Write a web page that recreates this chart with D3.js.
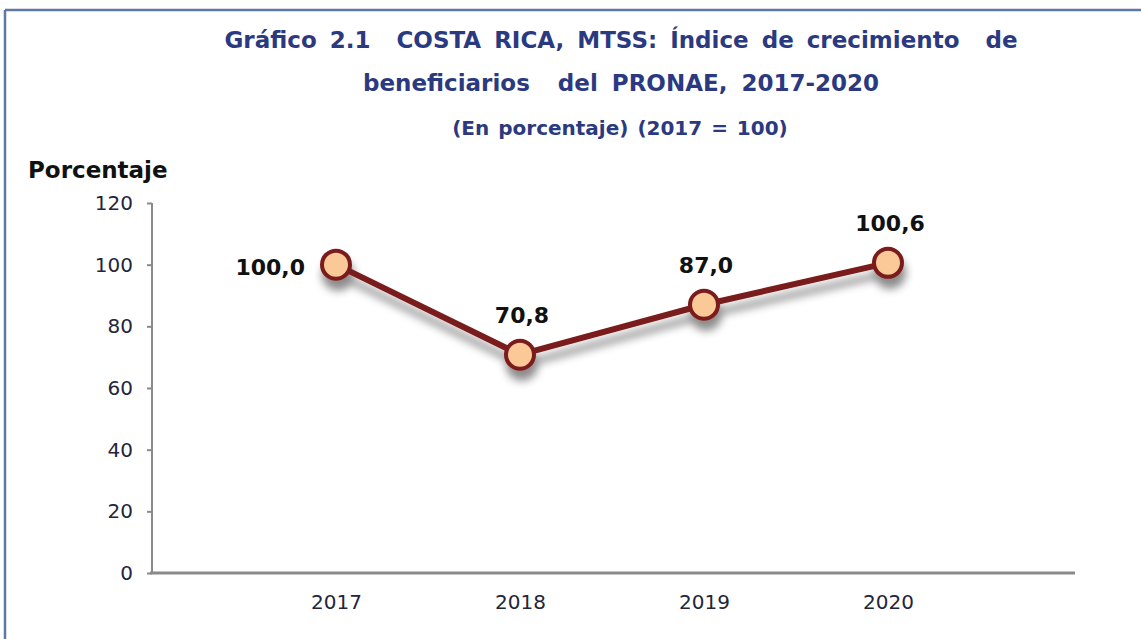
<!DOCTYPE html>
<html>
<head>
<meta charset="utf-8">
<script src="https://cdn.jsdelivr.net/npm/d3@7/dist/d3.min.js"></script>
<style>
  body { margin: 0; background: #fff; }
  svg { display: block; font-family: "DejaVu Sans", Verdana, sans-serif; }
  .title { fill: #2b3a80; font-weight: bold; }
  .axis text { fill: #23263a; font-size: 20px; font-family: "DejaVu Sans", Verdana, sans-serif; }
  .axis path, .axis line { stroke: #8a8a8a; stroke-width: 2; }
  .x.axis path { stroke-width: 3; }
  .lbl { font-weight: bold; font-size: 22px; fill: #111; }
</style>
</head>
<body>
<div id="chart"></div>
<script>
// data
var years = [2017, 2018, 2019, 2020];
var values = [100.0, 70.8, 87.0, 100.6];
var yTicks = [0, 20, 40, 60, 80, 100, 120];

var width = 1141, height = 639;
var plot = {left: 152, right: 1072, top: 203, bottom: 573};

var svg = d3.select("#chart").append("svg")
	.attr("width", width)
	.attr("height", height);

// drop shadow for the line and markers
var defs = svg.append("defs");
var f = defs.append("filter").attr("id", "shadow")
	.attr("x", "-20%").attr("y", "-30%").attr("width", "140%").attr("height", "180%");
f.append("feDropShadow")
	.attr("dx", 2).attr("dy", 10)
	.attr("stdDeviation", 4)
	.attr("flood-color", "#000")
	.attr("flood-opacity", 0.45);

// frame
svg.append("line").attr("x1", 5).attr("x2", width).attr("y1", 10).attr("y2", 10)
	.attr("stroke", "#5b78a6").attr("stroke-width", 2.5);
svg.append("line").attr("x1", 5).attr("x2", 5).attr("y1", 10).attr("y2", height)
	.attr("stroke", "#5b78a6").attr("stroke-width", 2.5);

// titles
svg.append("text").attr("class", "title")
	.attr("x", 621).attr("y", 48).attr("text-anchor", "middle")
	.style("font-size", "23px").style("word-spacing", "5px").attr("xml:space", "preserve")
	.text("Gráfico 2.1  COSTA RICA, MTSS: Índice de crecimiento  de");
svg.append("text").attr("class", "title")
	.attr("x", 621).attr("y", 91).attr("text-anchor", "middle")
	.style("font-size", "23px").style("word-spacing", "6px").attr("xml:space", "preserve")
	.text("beneficiarios  del PRONAE, 2017-2020");
svg.append("text").attr("class", "title")
	.attr("x", 620).attr("y", 135).attr("text-anchor", "middle")
	.style("font-size", "20px").style("word-spacing", "2px")
	.text("(En porcentaje) (2017 = 100)");

svg.append("text")
	.attr("x", 28).attr("y", 178)
	.style("font-size", "23px").style("font-weight", "bold").attr("fill", "#111")
	.text("Porcentaje");

// scales
var x = d3.scaleLinear()
	.domain([years[0] - 1, years[years.length - 1] + 1])
	.range([plot.left, plot.right]);

var y = d3.scaleLinear()
	.domain([0, 120])
	.range([plot.bottom, plot.top]);

// y axis
svg.append("g")
	.attr("class", "y axis")
	.attr("transform", "translate(" + plot.left + ",0)")
	.call(d3.axisLeft(y).tickValues(yTicks).tickSize(5).tickPadding(14).tickSizeOuter(0))
	.call(g => g.select(".domain").attr("d", "M0," + plot.top + "V" + plot.bottom));

// x axis
svg.append("g")
	.attr("class", "x axis")
	.attr("transform", "translate(0," + plot.bottom + ")")
	.call(d3.axisBottom(x).tickValues(years).tickFormat(d3.format("d")).tickSize(0).tickPadding(22).tickSizeOuter(0))
	.call(g => g.select(".domain").attr("d", "M" + (plot.left - 2) + ",0H" + (plot.right + 3)));

// line + markers
var pts = years.map((yr, i) => ({year: yr, value: values[i]}));

var line = d3.line()
	.x(d => x(d.year))
	.y(d => y(d.value));

var series = svg.append("g").attr("filter", "url(#shadow)");

series.append("path")
	.datum(pts)
	.attr("d", line)
	.attr("fill", "none")
	.attr("stroke", "#7a1c1c")
	.attr("stroke-width", 6)
	.attr("stroke-linejoin", "round");

series.selectAll("circle")
	.data(pts)
	.enter().append("circle")
		.attr("cx", d => x(d.year))
		.attr("cy", d => y(d.value))
		.attr("r", 14)
		.attr("fill", "#fbc997")
		.attr("stroke", "#7a1c1c")
		.attr("stroke-width", 4);

// data labels (first one sits left of its point, the others above)
var fmt = v => d3.format(".1f")(v).replace(".", ",");
svg.selectAll(".lbl")
	.data(pts)
	.enter().append("text")
		.attr("class", "lbl")
		.attr("x", (d, i) => i == 0 ? x(d.year) - 31 : x(d.year) + 2)
		.attr("y", (d, i) => i == 0 ? y(d.value) + 10 : y(d.value) - 32)
		.attr("text-anchor", (d, i) => i == 0 ? "end" : "middle")
		.text(d => fmt(d.value));
</script>
</body>
</html>
